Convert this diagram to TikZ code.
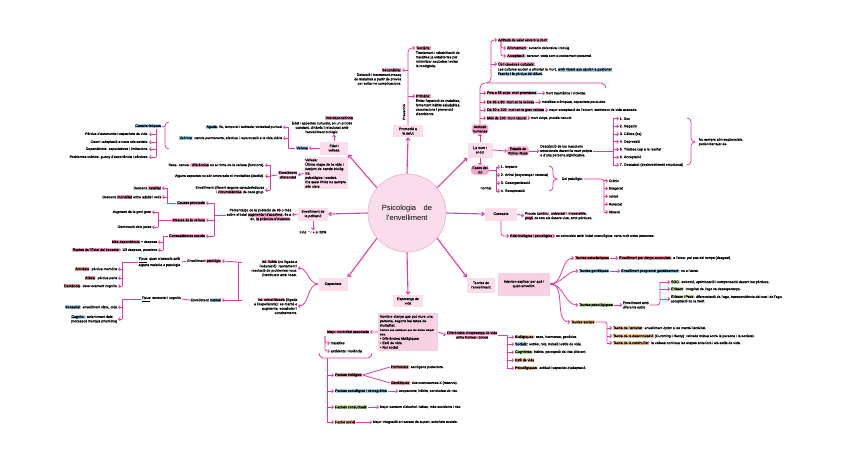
\documentclass[tikz,border=0pt]{standalone}
\usepackage{fontspec}
\setmainfont{Liberation Sans}[UprightFeatures={FakeBold=0.35}]
\newfontfamily\hubfont{Liberation Sans}
\usetikzlibrary{arrows.meta, positioning, calc}
\definecolor{mag}{HTML}{E23C9C}
\definecolor{boxpink}{HTML}{FBDDEB}
\definecolor{boxdeep}{HTML}{F8D0E3}
\definecolor{hubfill}{HTML}{FADDEC}
\definecolor{hubline}{HTML}{F2B8D5}
\definecolor{hlpink}{HTML}{F7A8CB}
\definecolor{hlred}{HTML}{F4A3A8}
\definecolor{hlblue}{HTML}{A9D5F2}
\definecolor{hlgreen}{HTML}{C2E5A4}
\definecolor{hlorange}{HTML}{F9CFA8}
\setlength\fboxsep{0.4pt}
\newcommand\mapfont{\fontsize{3.5}{4.4}\selectfont}
\newcommand\hlp[1]{\colorbox{hlpink}{#1}}
\newcommand\hlr[1]{\colorbox{hlred}{#1}}
\newcommand\hlb[1]{\colorbox{hlblue}{#1}}
\newcommand\hlg[1]{\colorbox{hlgreen}{#1}}
\newcommand\hlo[1]{\colorbox{hlorange}{#1}}

\begin{document}
\begin{tikzpicture}[x=1pt, y=-1pt,
    hub/.style={circle, fill=hubfill, draw=hubline, line width=0.8pt, minimum size=78pt, align=center, font=\hubfont\fontsize{7.5}{9.5}\selectfont},
    topic/.style={rectangle, fill=boxpink, align=center, inner sep=1.5pt, font=\mapfont},
    oval/.style={rectangle, rounded corners=3pt, fill=hlpink, align=center, inner sep=1.2pt, font=\mapfont},
    txt/.style={inner sep=0.6pt, align=left, font=\mapfont},
    rtxt/.style={txt, align=right},
    spoke/.style={-{Straight Barb[length=2.3pt,width=4pt]}, draw=mag, line width=1.1pt},
    arrow/.style={-{Straight Barb[length=1.6pt,width=3.2pt]}, draw=mag, line width=0.8pt},
    link/.style={draw=mag, line width=0.8pt}
]
\useasboundingbox (0,0) rectangle (848,464);

% Centre
\node[hub] (hub) at (407,213) {Psicologia\quad de\\l'envelliment};

% Promocio a la salut
\node[topic, minimum width=30pt, minimum height=12pt] (prom) at (408,131) {Promoció a\\la salut};
\node[txt, anchor=west] (terL) at (415,48) {\hlp{Terciària:}};
\node[txt, anchor=north west] (ter) at (terL.south west) {Tractament i rehabilitació de\\malalties ja establertes per\\minimitzar seqüeles i evitar\\la recaiguda.};
\node[txt, anchor=east] (secL) at (402,70) {\hlp{Secundària:}};
\node[rtxt, anchor=north east] (sec) at (secL.south east) {Detecció i tractament precoç\\de malalties a partir de proves\\per evitar-ne complicacions.};
\node[txt, anchor=west] (priL) at (415,96) {\hlp{Primària:}};
\node[txt, anchor=north west] (pri) at (priL.south west) {Evitar l'aparició de malalties,\\fomentant hàbits saludables,\\vacunacions i prevenció\\d'accidents.};
\node[txt, rotate=90, anchor=south] (prev) at (406,112) {Prevenció};

\draw[spoke] (hub.north) -- (prom.south);
\draw[arrow, rounded corners=4pt] (prom.north) |- (terL.west);
\draw[arrow] (prom.north |- secL.east) -- (secL.east);
\draw[arrow] (prom.north |- priL.west) -- (priL.west);

% La mort i el dol
\node[topic, minimum width=25pt, minimum height=15pt] (dol) at (480,150) {La mort i\\el dol};
\node[oval] (act) at (480,129) {Actituds\\humanes};
\node[oval] (kr) at (518,151) {Estadis de\\Kübler-Ross};
\node[oval] (fd) at (480,170) {Fases del\\dol};
\draw[spoke] (hub.40) -- (dol.south west);
\draw[arrow] (dol.north) -- (act.south);
\draw[arrow] (dol.south) -- (fd.north);
\draw[arrow] (dol.east) -- (kr.west);

\node[txt, anchor=west] (m1) at (486,93) {\hlp{Fins a 65 anys: mort prematura}};
\node[txt, anchor=west] (m2) at (486,102) {\hlp{De 65 a 80: mort en la vellesa}};
\node[txt, anchor=west] (m3) at (486,110) {\hlp{De 80 a 100: mort en la gran vellesa}};
\node[txt, anchor=west] (m4) at (486,118) {\hlp{Més de 100: mort natural}};
\node[txt, anchor=west] (tm1) at (545,93) {mort traumàtica i violenta.};
\node[txt, anchor=west] (tm2) at (541,102) {malalties cròniques, capacitats perdudes.};
\node[txt, anchor=west] (tm3) at (548,110) {major acceptació de l'entorn, sentiment de vida acabada.};
\node[txt, anchor=west] (tm4) at (530,118) {mort dolça, procés natural.};
\foreach \i in {1,...,4} {
  \draw[arrow] (m\i.west -| act.north) -- (m\i.west);
  \draw[arrow] (m\i) -- (tm\i);
}
\draw[link] (act.north) -- (480,88) to[out=90,in=180] (485,83) -- (601,83) to[out=0,in=90] (606,88);
\draw[link] (487,83) to[out=0,in=-90] (491,78);
\coordinate (asp) at (491,78);
\coordinate (asub) at (501,42);

\node[txt, anchor=west] (a1) at (497,40) {\hlp{Actituds de valor envers la mort}};
\node[txt, anchor=west] (a2) at (506,48) {\hlp{Afrontament}: evitació defensiva i rebuig.};
\node[txt, anchor=west] (a3) at (506,56) {\hlp{Acceptació}: serenor, vista com a creixement personal.};
\node[txt, anchor=west] (a4L) at (497,64) {\hlp{Ús i creences culturals:}};
\node[txt, anchor=north west] (a4) at (a4L.south west) {Les cultures ajuden a afrontar la mort, \hlb{amb rituals que ajuden a gestionar}\\\hlb{l'estrès i la pèrdua del difunt}.};
\draw[arrow, rounded corners=3pt] (asp) |- (a1.west);
\draw[arrow, rounded corners=2pt] (asub) |- (a2.west);
\draw[arrow, rounded corners=2pt] (asub) |- (a3.west);
\draw[arrow] (a4L.west -| asp) -- (a4L.west);

\node[txt] (krd) at (566,151) {Descripció de les reaccions\\emocionals davant la mort pròpia\\o d'una persona significativa.};
\draw[arrow] (kr) -- (krd);
\foreach \lbl [count=\i] in {1. Xoc, 2. Negació, 3. Còlera (ira), 4. Depressió, 5. Tristesa cap a la realitat, 6. Acceptació, 7. Descatexi (desinvestiment emocional)}
  \node[txt, anchor=west] (s\i) at (619,111+7.7*\i) {\lbl};
\coordinate (kbr) at (613,142);
\draw[link] (krd.east) -- (krd.east -| kbr);
\draw[link] (s1.west -| kbr) -- (s7.west -| kbr);
\foreach \i in {1,...,7} \draw[arrow] (s\i.west -| kbr) -- (s\i.west);
\draw[link] (687,118) to[out=0,in=90] (691,122) -- (691,138) to[out=-90,in=180] (695,142) to[out=180,in=90] (691,146) -- (691,161) to[out=-90,in=0] (687,165);
\node[txt, anchor=west] (note) at (698,142) {No sempre són seqüencials,\\poden barrejar-se.};

\foreach \lbl [count=\i] in {1. Impacte, 2. Anhel (enyorança i recerca), 3. Desorganització, 4. Recuperació}
  \node[txt, anchor=west] (dd\i) at (500,159+8*\i) {\lbl};
\node[txt] (fdn) at (486,188) {normal};
\coordinate (dbr) at (496,175);
\draw[link] (fd.east) -- (fd.east -| dbr);
\draw[link] (dd1.west -| dbr) -- (dd4.west -| dbr);
\foreach \i in {1,...,4} \draw[arrow] (dd\i.west -| dbr) -- (dd\i.west);
\draw[link] (549,166) to[out=0,in=90] (553,170) -- (553,175) to[out=-90,in=180] (557,179) to[out=180,in=90] (553,183) -- (553,187) to[out=-90,in=0] (549,191);
\node[txt, anchor=west] (dp) at (561,179) {Dol patològic:};
\foreach \lbl [count=\i] in {Crònic, Exagerat, Inhibit, Retardat, Absent}
  \node[txt, anchor=west] (pp\i) at (608,173+7.8*\i) {\lbl};
\coordinate (pbr2) at (604,196);
\draw[link, rounded corners=3pt] (dp.east) -| (pp5.west -| pbr2);
\foreach \i in {1,...,5} \draw[arrow] (pp\i.west -| pbr2) -- (pp\i.west);

% Concepte
\node[topic, minimum width=32pt, minimum height=13pt] (conc) at (501,214) {Concepte};
\draw[spoke] (hub.east) -- (conc.west);
\node[txt, anchor=west] (concd) at (524,216) {Procés \hlp{continu}, \hlp{universal} i \hlp{irreversible},\\\hlp{propi} de tots els éssers vius, amb pèrdues.};
\draw[arrow] (conc.east) -- (concd.west);
\node[txt, anchor=west] (edat) at (509,236) {\hlp{Edat biològica i psicològica}};
\node[txt, anchor=west] (edatt) at (555,236) {no coincideix amb l'edat cronològica; varia molt entre persones.};
\draw[arrow, rounded corners=3pt] (conc.south) |- (edat.west);
\draw[arrow] (edat) -- (edatt);

% Teories de l'envelliment
\node[topic, minimum width=28pt, minimum height=15pt] (teo) at (481,285) {Teories de\\l'envelliment};
\node[topic, fill=boxdeep, minimum width=52pt, minimum height=23pt] (teod) at (524,284) {Intenten explicar per què i\\quan envellim.};
\draw[spoke] (hub.-40) -- (teo.north west);
\node[txt, anchor=west] (te1) at (574,258) {\hlr{Teories estocàstiques}};
\node[txt, anchor=west] (te2) at (578,271) {\hlb{Teories genètiques}};
\node[txt, anchor=west] (te3) at (578,305) {\hlg{Teories psicològiques}};
\node[txt, anchor=west] (te4) at (570,322) {\hlo{Teories socials}};
\foreach \i in {1,...,4} \draw[arrow] (teod.east) to[out=0,in=180] (te\i.west);
\node[txt, anchor=west] (tt1) at (618,258) {\hlr{Envelliment per danys acumulats}: a l'atzar, pel pas del temps (desgast).};
\node[txt, anchor=west] (tt2) at (620,271) {\hlb{Envelliment programat genèticament}: no a l'atzar.};
\node[txt, anchor=west] (tt3) at (622,305) {Envelliment amb\\diferents estils};
\foreach \i in {1,2,3} \draw[arrow] (te\i) -- (tt\i);
\node[txt, anchor=west] (ps1) at (670,282) {\hlg{SOC}: selecció, optimització i compensació davant les pèrdues.};
\node[txt, anchor=west] (ps2) at (670,289) {\hlg{Erikson}: integritat de l'ego vs desesperança.};
\node[txt, anchor=west] (ps3) at (670,299) {\hlg{Erikson i Peck}: diferenciació de l'ego, transcendència del cos i de l'ego,\\acceptació de la mort.};
\coordinate (pbr3) at (660,290);
\draw[link, rounded corners=3pt] (tt3.east) -| (ps1.west -| pbr3);
\draw[arrow] (ps1.west -| pbr3) -- (ps1.west);
\draw[arrow] (ps2.west -| pbr3) -- (ps2.west);
\draw[arrow] (ps3.west -| pbr3) -- (ps3.west);
\node[txt, anchor=west] (so1) at (612,328) {\hlo{Teoria de l'activitat}: envelliment òptim si es manté l'activitat.};
\node[txt, anchor=west] (so2) at (612,336) {\hlo{Teoria de la desvinculació} (Cumming i Henry): retirada mútua entre la persona i la societat.};
\node[txt, anchor=west] (so3) at (612,343) {\hlo{Teoria de la continuïtat}: la vellesa continua les etapes anteriors i els estils de vida.};
\coordinate (sbr) at (607,322);
\draw[link, rounded corners=2pt] (te4.east) -| (so3.west -| sbr);
\foreach \i in {1,2,3} \draw[arrow] (so\i.west -| sbr) -- (so\i.west);

% Esperanca de vida
\node[topic, minimum width=30pt, minimum height=12pt] (esp) at (408,301) {Esperança de\\vida};
\node[topic, fill=boxdeep, anchor=north, text width=56pt, align=left, inner sep=2pt] (espd) at (408,313) {Nombre d'anys que pot viure una\\persona, segons les taxes de\\mortalitat.\\{\fontsize{2.6}{3.3}\selectfont Factors que expliquen que les dones visquin més:}\\\textbullet\ Diferències biològiques\\\textbullet\ Estil de vida\\\textbullet\ Rol social};
\draw[spoke] (hub.south) -- (esp.north);

\node[txt, anchor=east] (mm) at (370,332) {\hlp{Major morbiditat associada}};
\draw[arrow] (espd.west) -- (mm.east);
\node[txt, anchor=west] (mm1) at (330,343) {malalties};
\node[txt, anchor=west] (mm2) at (330,351) {accidents i violència};
\coordinate (mmS) at (325,336);
\draw[arrow, rounded corners=2pt] (mmS) |- (mm1.west);
\draw[arrow, rounded corners=2pt] (mmS) |- (mm2.west);
\draw[link] (319,353) to[out=-90,in=180] (323,358) -- (368,358) to[out=0,in=-90] (372,353);
\coordinate (fS) at (327,358);
\node[txt, anchor=west] (fa1) at (334,375) {\hlr{Factors biològics}};
\node[txt, anchor=west] (fa2) at (334,391) {\hlb{Factors sociològics i demogràfics}};
\node[txt, anchor=west] (fa3) at (334,407) {\hlg{Factors conductuals}};
\node[txt, anchor=west] (fa4) at (334,422) {\hlo{Factor social}};
\draw[link] (fS) -- (fS |- fa4.west);
\foreach \i in {1,...,4} \draw[arrow] (fS |- fa\i.west) -- (fa\i.west);
\node[txt, anchor=west] (fa1a) at (390,367) {\hlr{Hormonals}: estrògens protectors.};
\node[txt, anchor=west] (fa1b) at (390,383) {\hlr{Genètiques}: dos cromosomes X (reserva).};
\draw[link] (fa1.east) -- (fa1a.west);
\draw[link] (fa1.east) -- (fa1b.west);
\node[txt, anchor=west] (ft2) at (398,391) {ocupacions, hàbits, conductes de risc.};
\node[txt, anchor=west] (ft3) at (379,407) {Major consum d'alcohol i tabac, més accidents i risc.};
\node[txt, anchor=west] (ft4) at (372,422) {Major integració en xarxes de suport, activitats socials.};
\foreach \i in {2,3,4} \draw[arrow] (fa\i) -- (ft\i);

\node[txt, anchor=west, align=center] (dif) at (446,335) {\hlp{Diferències d'esperança de vida}\\\hlp{entre homes i dones}};
\draw[arrow] (espd.east) -- (dif.west);
\node[txt, anchor=west] (d1) at (514,337) {\hlo{Biològiques}: sexe, hormones, genètica.};
\node[txt, anchor=west] (d2) at (514,344) {\hlb{Socials}: estrès, rols, treball i estils de vida.};
\node[txt, anchor=west] (d3) at (514,352) {\hlg{Cognitives}: hàbits, percepció del risc diferent.};
\node[txt, anchor=west] (d4) at (514,360) {\hlo{Estil de vida}};
\node[txt, anchor=west] (d5) at (514,368) {\hlo{Psicològiques}: actitud i capacitat d'adaptació.};
\coordinate (dS) at (507,335);
\draw[link] (dif.east) -- (dS) -- (dS |- d5.west);
\foreach \i in {1,...,5} \draw[arrow] (dS |- d\i.west) -- (d\i.west);

% Capacitats
\node[topic, minimum width=29pt, minimum height=13pt] (cap) at (333,284) {Capacitats};
\draw[spoke] (hub.-140) -- (cap.north east);
\node[rtxt, anchor=east] (fl) at (298,268) {\hlp{Int. fluïda} (no lligada a\\l'educació): raonament i\\resolució de problemes nous.\\Disminueix amb l'edat.};
\node[rtxt, anchor=east] (cr) at (298,306) {\hlp{Int. cristal·litzada} (lligada\\a l'experiència): es manté o\\augmenta; vocabulari i\\coneixements.};
\draw[arrow] (cap.west) to[out=180,in=0] (fl.east);
\draw[arrow] (cap.west) to[out=180,in=0] (cr.east);
\node[txt, anchor=east] (en1) at (222,261) {Envelliment \hlp{patològic}};
\node[txt, anchor=east] (en2) at (222,300) {Envelliment \hlb{normal}};
\coordinate (bt) at (238,262);
\coordinate (bb) at (238,300);
\draw[link] (242,262) -- (bt) -- (bb) -- (242,300);
\draw[arrow] (bt) -- (en1.east);
\draw[arrow] (bb) -- (en2.east);
\node[txt, anchor=east] (tip1) at (182,262) {\underline{Tipus}: quan s'associa amb\\alguna malaltia o patologia.};
\node[txt, anchor=east] (tip2) at (182,299) {\underline{Tipus}: sensorial i cognitiu};
\draw[link] (en1.west) -- (tip1.east);
\draw[link] (en2.west) -- (tip2.east);
\node[txt, anchor=east] (am) at (118,269) {\hlr{Amnèsia}: pèrdua memòria};
\node[txt, anchor=east] (af) at (118,278) {\hlr{Afàsia}: pèrdua parla};
\node[txt, anchor=east] (de) at (118,286) {\hlr{Demència}: deteriorament cognitiu};
\coordinate (tb1) at (122,262);
\draw[link] (tip1.west) -- (tb1) -- (tb1 |- de.east);
\foreach \n in {am,af,de} \draw[arrow] (tb1 |- \n.east) -- (\n.east);
\node[txt, anchor=east] (se) at (118,307) {\hlb{Sensorial}: envelliment vista, oïda};
\node[txt, anchor=east] (co) at (118,319) {\hlb{Cognitiu}: enlentiment dels\\processos mentals (memòria)};
\coordinate (tb2) at (122,299);
\draw[link] (tip2.west) -- (tb2) -- (tb2 |- co.east);
\foreach \n in {se,co} \draw[arrow] (tb2 |- \n.east) -- (\n.east);

% Envelliment de la poblacio
\node[topic, minimum width=30pt, minimum height=13pt] (pob) at (313,214) {Envelliment de\\la població};
\draw[spoke] (hub.west) -- (pob.east);
\node[txt, anchor=north] (pob2) at (313,230) {Fins $\sim$+ el 20\%};
\draw[arrow] (pob.south) -- (pob2.north);
\node[rtxt, anchor=east] (pobd) at (292,215) {Percentatge de la població de 65 o més\\sobre el total \hlp{augmenta i s'accelera}, és a\\dir, \hlp{la piràmide s'inverteix}.};
\draw[arrow] (pob.west) -- (pobd.east);
\node[txt, anchor=east] (ca) at (206,203) {\hlp{Causes principals}};
\node[txt, anchor=east] (me) at (206,220) {\hlp{Mesura de la vellesa}};
\node[txt, anchor=east] (cs) at (206,236) {\hlp{Conseqüències socials}};
\coordinate (pbr) at (214,215);
\draw[link] (pobd.west) -- (pbr);
\draw[link] (pbr |- ca.east) -- (pbr |- cs.east);
\foreach \n in {ca,me,cs} \draw[arrow] (pbr |- \n.east) -- (\n.east);
\node[txt, anchor=east] (n1) at (162,188) {Descens \hlp{natalitat}};
\node[txt, anchor=east] (n2) at (162,197) {Descens \hlp{mortalitat} entre adults i vells};
\coordinate (cb) at (167,203);
\draw[link] (ca.west) -- (cb) -- (cb |- n1.east);
\foreach \n in {n1,n2} \draw[arrow] (cb |- \n.east) -- (\n.east);
\node[txt, anchor=east] (g1) at (152,212) {Augment de la gent gran};
\node[txt, anchor=east] (g2) at (152,227) {Disminució dels joves};
\coordinate (mb) at (158,220);
\draw[link] (me.west) -- (mb);
\draw[link] (mb |- g1.east) -- (mb |- g2.east);
\foreach \n in {g1,g2} \draw[arrow] (mb |- \n.east) -- (\n.east);
\node[txt, anchor=east] (h1) at (158,242) {\hlp{Més dependència} + despesa};
\node[txt, anchor=east] (h2) at (158,250) {\hlp{Reptes de l'Estat del benestar}: 1/3 despesa, pensions};
\coordinate (sb) at (163,236);
\draw[link] (cs.west) -- (sb) -- (sb |- h2.east);
\foreach \n in {h1,h2} \draw[arrow] (sb |- \n.east) -- (\n.east);

% Edat i vellesa
\node[topic, minimum width=28pt, minimum height=13pt] (vell) at (334,148) {Edat i\\vellesa};
\node[topic, anchor=north east, text width=41pt, align=left] (velld) at (348,157) {Vellesa:\\Última etapa de la vida i\\conjunt de canvis biològics,\\psicològics i socials.\\Els seus límits no sempre\\són clars.};
\draw[spoke] (hub.140) -- (vell.south east);
\node[txt, anchor=south east] (intL) at (354,121) {\hlp{Interdependència}};
\node[txt, anchor=north, align=center] (intd) at (322,121) {Edat i aspectes culturals, en un procés\\constant, dinàmic i relacionat amb\\l'envelliment biològic.};
\draw[arrow] (vell.north) -- (vell.north |- intd.south);
\node[txt, anchor=east] (vel) at (309,148) {\hlb{Vellesa}};
\draw[arrow] (vell.west) -- (vel.east);
\node[txt, anchor=east] (ag) at (283,127) {\hlb{Aguda}: fix, temporal i sobtada; vicissitud puntual};
\node[txt, anchor=east] (cro) at (283,138) {\hlb{Crònica}: canvis permanents, afectius i repercussió a la vida diària};
\coordinate (vb) at (288,148);
\draw[link] (vel.west) -- (vb) -- (vb |- ag.east);
\foreach \n in {ag,cro} \draw[arrow] (vb |- \n.east) -- (\n.east);
\node[txt, anchor=east] (car) at (162,126) {\hlb{Característiques}};
\draw[link] (169,122) to[out=180,in=90] (165,126) -- (165,145) to[out=-90,in=180] (169,149);
\draw[link] (car.east) -- (165,126);
\node[txt, anchor=east] (k1) at (149,134) {Pèrdua d'autonomia i capacitats de vida.};
\node[txt, anchor=east] (k2) at (149,142) {Canvi i adaptació a nous rols socials.};
\node[txt, anchor=east] (k3) at (149,149) {Dependència: expectatives i limitacions.};
\node[txt, anchor=east] (k4) at (149,157) {Problemes crònics: guany d'experiència i pèrdues.};
\coordinate (kb) at (156,129);
\draw[link] (kb) -- (kb |- k4.east);
\foreach \i in {1,...,4} \draw[arrow] (kb |- k\i.east) -- (k\i.east);
\node[txt, anchor=east, align=center] (envd) at (298,175) {\hlp{Envelliment}\\\hlp{diferencial}};
\draw[arrow] (velld.west) -- (envd.east);
\node[txt, anchor=east] (e1) at (265,165) {Sexe: canvis i \hlp{diferències} en el ritme de la vellesa (funcions).};
\node[txt, anchor=east] (e2) at (265,176) {Alguns aspectes no són universals ni inevitables (declivi).};
\node[rtxt, anchor=east] (e3) at (265,190) {Envelliment diferent segons característiques\\i \hlp{circumstàncies} de cada grup.};
\coordinate (eb) at (270,176);
\draw[link] (envd.west) -- (eb);
\draw[link] (eb |- e1.east) -- (eb |- e3.east);
\foreach \n in {e1,e2,e3} \draw[arrow] (eb |- \n.east) -- (\n.east);
\end{tikzpicture}
\end{document}
